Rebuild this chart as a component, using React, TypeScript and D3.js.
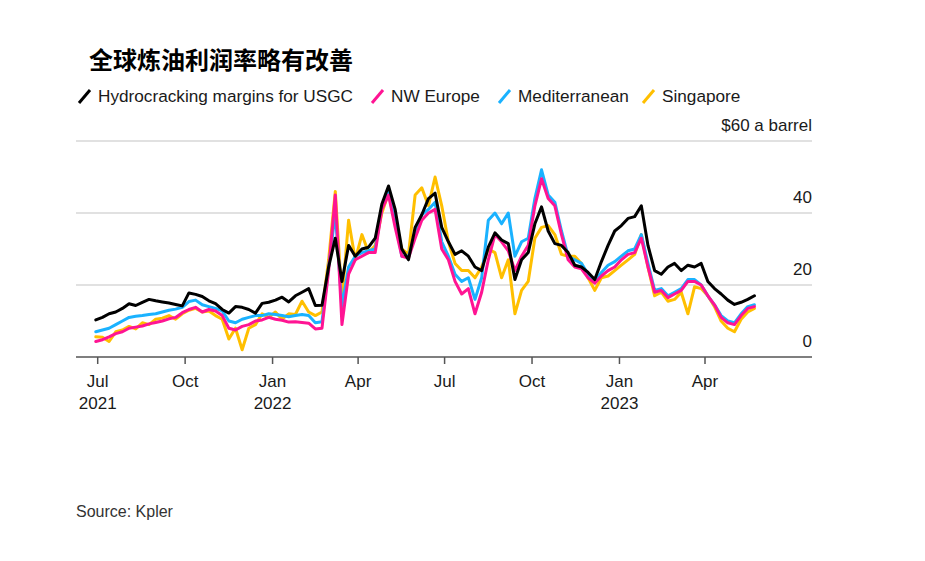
import React from "react";
import * as d3 from "d3";

const dates: string[] = [
  "2021-06-29","2021-07-06","2021-07-13","2021-07-20","2021-07-27","2021-08-03","2021-08-10","2021-08-17","2021-08-24","2021-08-31",
  "2021-09-07","2021-09-14","2021-09-21","2021-09-28","2021-10-05","2021-10-12","2021-10-19","2021-10-26","2021-11-02","2021-11-09",
  "2021-11-16","2021-11-23","2021-11-30","2021-12-07","2021-12-14","2021-12-21","2021-12-28","2022-01-04","2022-01-11","2022-01-18",
  "2022-01-25","2022-02-01","2022-02-08","2022-02-15","2022-02-22","2022-03-01","2022-03-08","2022-03-15","2022-03-22","2022-03-29",
  "2022-04-05","2022-04-12","2022-04-19","2022-04-26","2022-05-03","2022-05-10","2022-05-17","2022-05-24","2022-05-31","2022-06-07",
  "2022-06-14","2022-06-21","2022-06-28","2022-07-05","2022-07-12","2022-07-19","2022-07-26","2022-08-02","2022-08-09","2022-08-16",
  "2022-08-23","2022-08-30","2022-09-06","2022-09-13","2022-09-20","2022-09-27","2022-10-04","2022-10-11","2022-10-18","2022-10-25",
  "2022-11-01","2022-11-08","2022-11-15","2022-11-22","2022-11-29","2022-12-06","2022-12-13","2022-12-20","2022-12-27","2023-01-03",
  "2023-01-10","2023-01-17","2023-01-24","2023-01-31","2023-02-07","2023-02-14","2023-02-21","2023-02-28","2023-03-07","2023-03-14",
  "2023-03-21","2023-03-28","2023-04-04","2023-04-11","2023-04-18","2023-04-25","2023-05-02","2023-05-09","2023-05-16","2023-05-23",
];

const usgc: number[] = [
  10.3,11,12,12.5,13.5,14.8,14.3,15.2,16,15.6,
  15.3,15,14.6,14.2,17.8,17.4,16.8,15.6,14.8,13.2,
  12.2,14,13.8,13.2,12.2,14.9,15.2,15.8,16.6,15.3,
  17,18,19,14.3,14.4,25,33,21,31,28,
  30,30.5,33,42.5,47.5,41,30,27,36,39.5,
  44,45.5,36,32,28.5,29.5,28,25,24,30.5,
  34.5,32.5,31.5,21.5,27,29,37,41.7,35,31.5,
  31,29,25.5,25,23.5,21.5,26.5,31,35,36.5,
  38.5,39,42,31,24,23,25,26,24,25.5,
  25,26,21,19,17.5,15.8,14.6,15.2,16,17,
];

const nwEurope: number[] = [
  4.3,4.8,5.6,6.5,7,8,8.3,8.6,9.2,9.6,
  10,10.6,11,12.3,13.2,13.8,12.5,13.2,12.8,11.5,
  8,7.5,8.5,9,10,10.3,11,10.5,10.2,9.7,
  9.8,9.6,9.4,7.8,8,24,45,9,23,27,
  28,29,29,41,45,36,28,27.5,33,38,
  40,41,30,27,21,17.5,19,12,18,27,
  34,32,29.5,24,28,31,42,49.5,44,42,
  34,27,25,24.5,22,20.5,22.5,24,25,27,
  28.5,29,33,25,18,18.5,16.5,17.5,18.5,21,
  21,20,17,14.5,11,9.5,9,11.5,13.5,14,
];

const mediterranean: number[] = [
  7,7.5,8,9,10,11,11.3,11.5,11.8,12,
  12.5,13,13.3,13.8,15.4,15.8,14.5,14,13.5,12.8,
  10,9.5,10.5,11,11.5,11.5,12,11.8,11.5,11.2,
  11.5,11.8,11.5,9.5,9.8,25,40,14,25,28,
  29,29.5,30,41.5,46,38,28,28,34,39.5,
  41,43,32,28,23,21,22,16,22,38,
  40,37,40,28,32,33,44,52,45,43,
  35,28,27,26,23,21,23.5,25.5,26.5,28,
  29.5,30,34,26,18.5,19,17,18,19,21.5,
  21.5,20,17,14.5,11.5,10,9.5,12,14,14.5,
];

const singapore: number[] = [
  5.6,5.5,4.3,7,7.5,8.5,7.8,9.5,9,10.5,
  10.8,11.5,10.5,12,13,13.5,12.5,12.8,11.5,10.5,
  5,8,2,8,9,12,11,12.5,10.5,12,
  11.8,15.5,12.5,11.5,12.5,27,46,16,38,27,
  34,29,31,40,45.5,37,30,28.5,45,47,
  42,50,42,32,26,24,24,22,25,30,
  29,22,27,12,18.5,21,33,36,36.5,34,
  28.5,28,28,26,22,18.5,22,22.5,24,25.5,
  27,28.5,34,25,17,18,15.5,16,18,12,
  19.5,19,17,14,10,8,7,10.5,12.5,13.5,
];

const seriesNames = ["Hydrocracking margins for USGC", "NW Europe", "Mediterranean", "Singapore"];
const seriesColors = ["#000000", "#ff1493", "#1ab2ff", "#ffbf00"];
const seriesValues = [usgc, nwEurope, mediterranean, singapore];

const yTicks = [0, 20, 40, 60];
const xTickDates = ["2021-07-01","2021-10-01","2022-01-01","2022-04-01","2022-07-01","2022-10-01","2023-01-01","2023-04-01"];
const xTickMonths = ["Jul","Oct","Jan","Apr","Jul","Oct","Jan","Apr"];
const xTickYears = ["2021","","2022","","","","2023",""];

const parse = d3.timeParse("%Y-%m-%d");
const FONT = "'Liberation Sans', Arial, Helvetica, sans-serif";

export default function App() {
  const x = d3.scaleTime()
    .domain([parse("2021-07-01")!, parse("2023-04-01")!])
    .range([97.7, 705]);
  const y = d3.scaleLinear().domain([0, 60]).range([357, 141]);
  const left = 76, right = 812;
  const parsed = dates.map((d) => parse(d)!);

  const line = (vals: number[]) =>
    d3.line<number>()
      .x((_, i) => x(parsed[i]))
      .y((v) => y(v))
      .curve(d3.curveLinear)(vals) || "";

  const drawOrder = [3, 2, 1, 0];

  const legendX = [77, 370, 497, 641];

  return (
    <svg width={925} height={561} style={{ position: "absolute", left: 0, top: 0, background: "#fff" }} fontFamily={FONT}>
      <text x={89} y={69} fontSize={24} fontWeight={700} fontFamily="'Noto Sans CJK SC', sans-serif" fill="#000">全球炼油利润率略有改善</text>

      {seriesNames.map((n, i) => (
        <g key={n} transform={`translate(${legendX[i]},0)`}>
          <line x1={2} y1={103} x2={13} y2={90} stroke={seriesColors[i]} strokeWidth={3} />
          <text x={21} y={102} fontSize={17.2} fill="#1a1a1a">{n}</text>
        </g>
      ))}

      {yTicks.filter((t) => t > 0).map((t) => (
        <line key={t} x1={left} x2={right} y1={y(t)} y2={y(t)} stroke="#e1e1e1" strokeWidth={2} />
      ))}
      {yTicks.map((t) => (
        <text key={"l" + t} x={right} y={y(t) - 10} textAnchor="end" fontSize={17} fill="#1a1a1a">
          {t === 60 ? "$60 a barrel" : String(t)}
        </text>
      ))}

      {drawOrder.map((si) => (
        <path key={si} d={line(seriesValues[si])} fill="none" stroke={seriesColors[si]} strokeWidth={3} strokeLinejoin="round" strokeLinecap="round" />
      ))}

      <line x1={left} x2={right} y1={y(0)} y2={y(0)} stroke="#555" strokeWidth={1.5} />
      {xTickDates.map((d, i) => {
        const xx = x(parse(d)!);
        return (
          <g key={d}>
            <line x1={xx} x2={xx} y1={357} y2={364} stroke="#555" strokeWidth={1.5} />
            <text x={xx} y={387} textAnchor="middle" fontSize={17} fill="#1a1a1a">{xTickMonths[i]}</text>
            {xTickYears[i] && (
              <text x={xx} y={409} textAnchor="middle" fontSize={17} fill="#1a1a1a">{xTickYears[i]}</text>
            )}
          </g>
        );
      })}

      <text x={76} y={517} fontSize={16} fill="#333">Source: Kpler</text>
    </svg>
  );
}
